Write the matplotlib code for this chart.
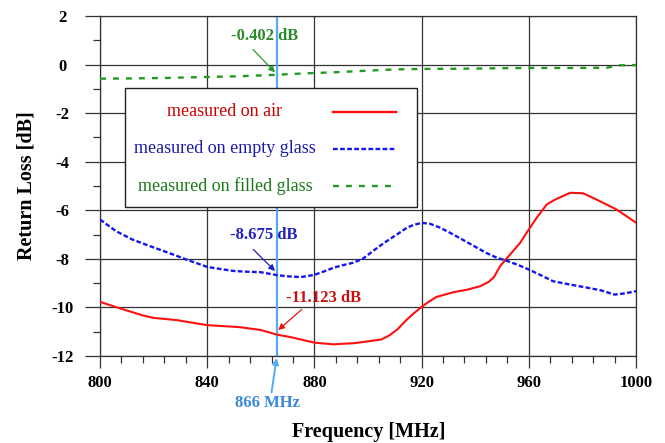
import numpy as np
import matplotlib
matplotlib.use('Agg')
import matplotlib.pyplot as plt
from matplotlib.patches import Rectangle
from matplotlib.lines import Line2D
from matplotlib.ticker import MultipleLocator

# %% Data
freq_air = [800, 807.5, 816, 820, 828.5, 840, 852, 860, 866, 871, 880, 887, 895, 901, 905,
            908, 911, 914.5, 917, 920, 922.5, 925.5, 932, 937, 942, 945, 947, 949.3, 952,
            956.7, 960, 963, 966.7, 969.8, 975.4, 980.3, 985.3, 992.8, 1000]
air = [-9.77, -10.04, -10.33, -10.43, -10.52, -10.73, -10.81, -10.93, -11.12, -11.22, -11.45,
       -11.52, -11.47, -11.38, -11.32, -11.15, -10.9, -10.5, -10.25, -9.98, -9.78, -9.57,
       -9.37, -9.27, -9.12, -8.95, -8.75, -8.3, -7.95, -7.35, -6.79, -6.3, -5.76, -5.56,
       -5.28, -5.3, -5.56, -5.97, -6.51]

freq_empty = [800, 806, 812, 818, 822, 828, 832, 840, 845, 850, 855, 860, 866, 870, 875, 880,
              884, 887, 891, 894.5, 898, 901, 904, 907, 911, 914.5, 917, 920, 923, 927, 931,
              934, 940, 944, 948, 952, 956, 960, 965, 969, 975, 982, 987, 992, 996, 1000]
empty = [-6.38, -6.86, -7.2, -7.45, -7.61, -7.85, -8.02, -8.33, -8.42, -8.5, -8.53, -8.55,
         -8.67, -8.72, -8.75, -8.66, -8.5, -8.37, -8.25, -8.16, -8.0, -7.75, -7.5, -7.27,
         -6.98, -6.72, -6.6, -6.52, -6.55, -6.72, -6.95, -7.13, -7.5, -7.75, -7.95, -8.09,
         -8.25, -8.44, -8.7, -8.92, -9.05, -9.19, -9.3, -9.47, -9.42, -9.33]

freq_filled = [800, 812, 825, 840, 852, 866, 877, 887, 900, 910, 920, 935, 950, 960, 975,
               989, 994, 1000]
filled = [-0.58, -0.57, -0.55, -0.51, -0.48, -0.42, -0.36, -0.32, -0.25, -0.2, -0.18,
          -0.17, -0.15, -0.14, -0.14, -0.13, -0.03, -0.02]

labels = ['measured on air', 'measured on empty glass', 'measured on filled glass']
marker_freq = 866
marker_values = ['-0.402 dB', '-8.675 dB', '-11.123 dB']

# %% Plot
plt.rcParams['font.family'] = ['Liberation Serif', 'DejaVu Serif']
plt.rcParams['axes.unicode_minus'] = False

fig = plt.figure(figsize=(6.65, 4.43), dpi=100)
ax = fig.add_axes([100/665, 1-356/443, 536/665, 340/443])

ax.axvline(marker_freq, color='#55aaf5', lw=1.6, zorder=1)

ax.plot(freq_air, air, color='#ff1010', lw=1.5, zorder=3)
ax.plot(freq_empty, empty, color='#1515ee', lw=1.7, ls=(0, (2, 1)), zorder=3)
ax.plot(freq_filled, filled, color='#229922', lw=1.7, ls=(0, (2.5, 3)), zorder=3)

ax.set_xlim(800, 1000)
ax.set_ylim(-12, 2)
ax.xaxis.set_major_locator(MultipleLocator(40))
ax.xaxis.set_minor_locator(MultipleLocator(8))
ax.yaxis.set_major_locator(MultipleLocator(2))
ax.yaxis.set_minor_locator(MultipleLocator(1))
ax.grid(True, which='major', color='#333333', lw=0.9)
ax.set_axisbelow(True)
for s in ax.spines.values():
    s.set_color('#333333')
    s.set_linewidth(0.9)

ax.tick_params(axis='x', which='major', length=8.4, width=0.9, color='#333333', pad=5, labelsize=12)
ax.tick_params(axis='x', which='minor', length=5, width=0.9, color='#333333')
ax.tick_params(axis='y', which='major', length=10.8, width=0.9, color='#333333', pad=16, labelsize=12)
ax.tick_params(axis='y', which='minor', length=5, width=0.9, color='#333333')
for lab in ax.get_xticklabels() + ax.get_yticklabels():
    lab.set_fontweight('bold')
for lab in ax.get_yticklabels():
    lab.set_horizontalalignment('center')

ax.set_xlabel('Frequency [MHz]', fontsize=14.5, fontweight='bold', va='center')
ax.xaxis.set_label_coords(0.502, -0.224)
ax.set_ylabel('Return Loss [dB]', fontsize=14.5, fontweight='bold', va='center')
ax.yaxis.set_label_coords(-0.138, 0.5)

# legend box, text centred with the sample line to its right
ax.add_patch(Rectangle((0.0466, 0.438), 0.544, 0.35, transform=ax.transAxes,
                       facecolor='white', edgecolor='#222222', lw=1.0, zorder=5))
txt_cols = ['#cc0000', '#1a1aa8', '#1a7a1a']
line_cols = ['#ff1010', '#1515ee', '#229922']
styles = ['-', (0, (2, 1)), (0, (2.5, 3))]
rows = [0.718, 0.609, 0.5]
for lab, tc, lc, st, yy in zip(labels, txt_cols, line_cols, styles, rows):
    ax.text(0.233, yy, lab, transform=ax.transAxes, ha='center', va='center',
            fontsize=13, color=tc, zorder=6)
    ax.add_line(Line2D([0.435, 0.552], [yy, yy], transform=ax.transAxes, color=lc,
                       lw=1.7, ls=st, zorder=6))

# marker annotations
arr = dict(arrowstyle='-|>', lw=0.9, mutation_scale=9, shrinkA=0, shrinkB=0)
fw = 'bold'
fs = 12
ax.text(861.6, 1.19, marker_values[0], ha='center', va='center', fontsize=fs,
        fontweight=fw, color='#2a8a2a')
ax.annotate('', xy=(865.3, -0.32), xytext=(857.1, 0.62), arrowprops=dict(arr, color='#2a9a2a'))
ax.text(861.2, -7.0, marker_values[1], ha='center', va='center', fontsize=fs,
        fontweight=fw, color='#2020c0')
ax.annotate('', xy=(865.3, -8.5), xytext=(857.2, -7.61), arrowprops=dict(arr, color='#2020c0'))
ax.text(883.6, -9.63, marker_values[2], ha='center', va='center', fontsize=fs,
        fontweight=fw, color='#cc1010')
ax.annotate('', xy=(866.5, -10.93), xytext=(875.3, -10.08), arrowprops=dict(arr, color='#ee1010'))
ax.text(862.3, -13.95, '866 MHz', ha='center', va='center', fontsize=fs,
        fontweight=fw, color='#3a88dd')
ax.annotate('', xy=(865.9, -12.08), xytext=(864.0, -13.5), annotation_clip=False,
            arrowprops=dict(arr, color='#55aaf5', lw=1.4))

fig.savefig('out.png', dpi=100)
